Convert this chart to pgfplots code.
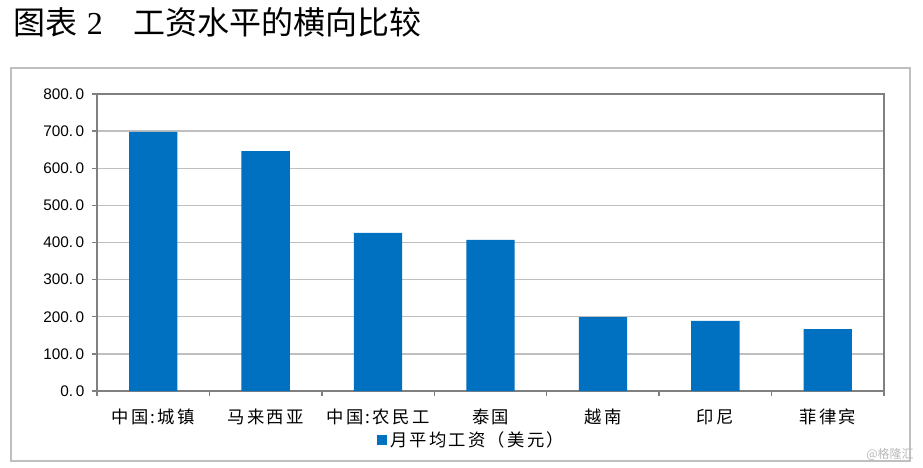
\documentclass[border=0pt]{standalone}
\usepackage{fontspec}
\setmainfont{Liberation Sans}
\newfontfamily\cjk{Noto Sans CJK SC}
\newfontfamily\cjksp[LetterSpace=13]{Noto Sans CJK SC}
\newfontfamily\serif{Liberation Serif}
\usepackage{pgfplots}
\pgfplotsset{compat=1.18}
\definecolor{barblue}{HTML}{0070C0}
\definecolor{axisgray}{HTML}{808080}
\definecolor{gridgray}{HTML}{BFBFBF}
\begin{document}
\begin{tikzpicture}
\begin{scope}[x=0.75pt,y=-0.75pt]
\path[use as bounding box] (0,0) rectangle (923,467);
\draw[gridgray, line width=1.5pt] (11,68) rectangle (910,461);
\node[anchor=west, inner sep=0pt, font=\cjk\fontsize{24}{28}\selectfont] at (13,22) {图表\hspace{0.3em}{\serif 2}\hspace{0.95em}工资水平的横向比较};
\node[anchor=south east, inner sep=0pt, text=gray!55, font=\cjk\fontsize{9}{10}\selectfont] at (914,461) {@格隆汇};
\end{scope}
\begin{axis}[
  at={(72.75pt,-293.25pt)}, anchor=south west,
  scale only axis, width=590.25pt, height=222.75pt,
  xmin=-0.5, xmax=6.5, ymin=0, ymax=800,
  axis line style={draw=axisgray, line width=1.1pt},
  ytick={0,100,...,800},
  yticklabels={0.\,0,100.\,0,200.\,0,300.\,0,400.\,0,500.\,0,600.\,0,700.\,0,800.\,0},
  yticklabel style={font=\fontsize{11.5}{13}\selectfont, xshift=-2pt},
  xtick={-0.5,0.5,...,6.5},
  xticklabels={},
  extra x ticks={0,1,2,3,4,5,6},
  extra x tick labels={中国:城镇,马来西亚,中国:农民工,泰国,越南,印尼,菲律宾},
  extra x tick style={major tick length=0pt, grid=none,
    xticklabel style={font=\cjksp\fontsize{13}{15}\selectfont, yshift=-10pt}},
  tick pos=left,
  tick align=outside,
  major tick length=4pt,
  every tick/.style={draw=axisgray, line width=1.1pt},
  ymajorgrids, grid style={draw=gridgray, line width=1.1pt},
  legend style={at={(0.4765,-0.165)}, anchor=center, draw=none, fill=none,
    font=\cjksp\fontsize{13}{15}\selectfont, inner sep=0pt},
  legend image code/.code={\fill[barblue] (0pt,-3.8pt) rectangle (7.6pt,3.8pt);},
  legend cell align=left,
]
\addplot[ybar, bar width=0.43, fill=barblue, draw=none] coordinates {
 (0,698) (1,646) (2,426) (3,407) (4,199) (5,189) (6,167)};
\addlegendentry{月平均工资（美元）}
\end{axis}
\end{tikzpicture}
\end{document}
